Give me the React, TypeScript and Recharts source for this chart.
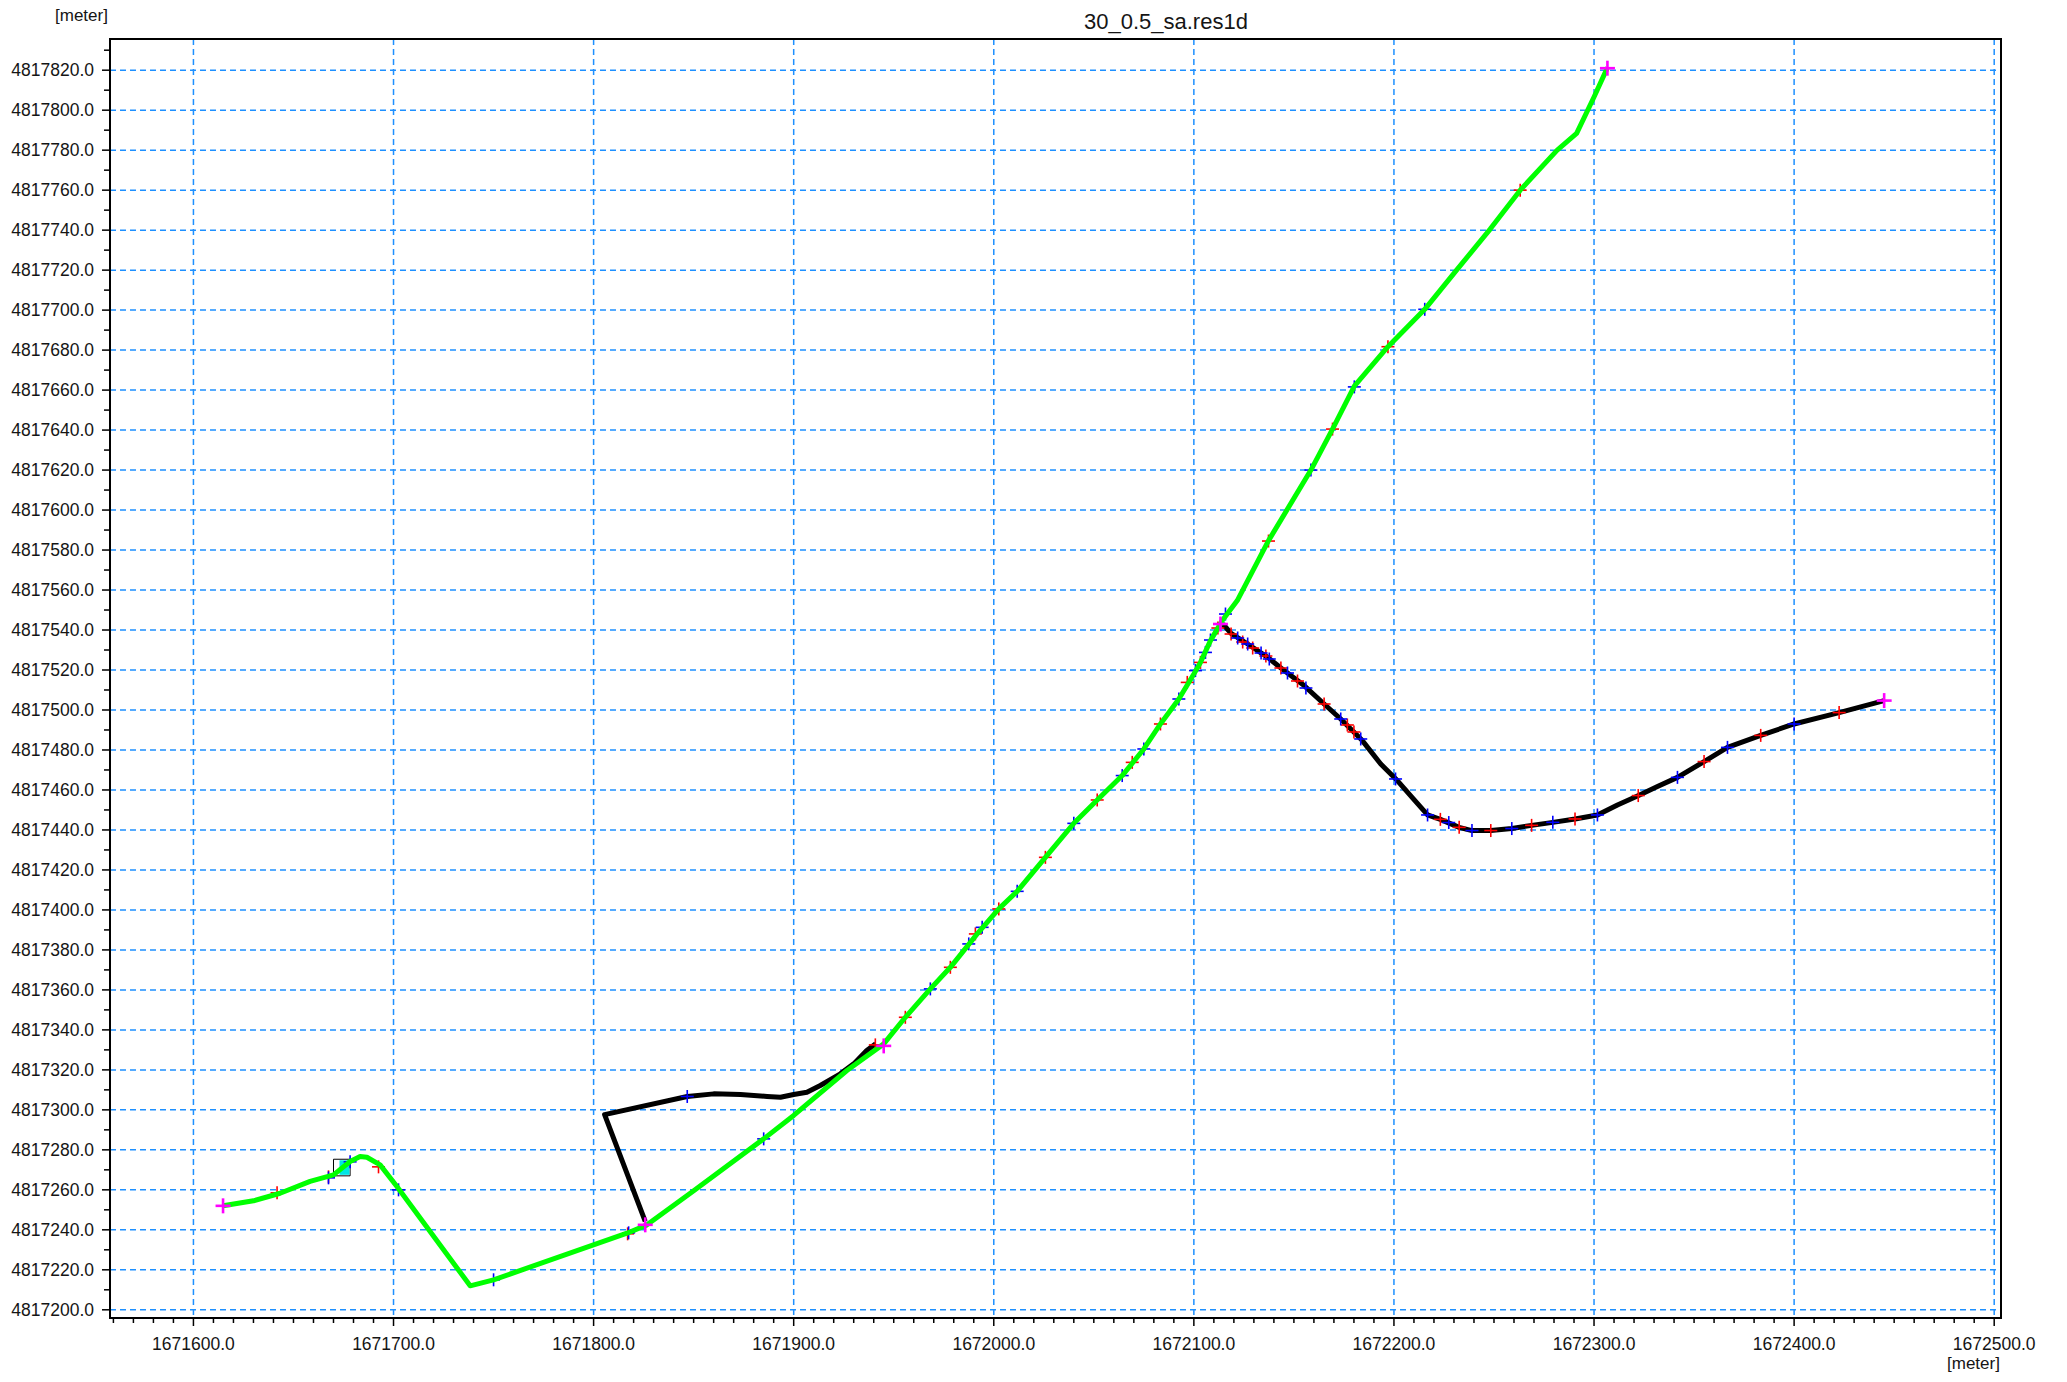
import React from "react";
import { ScatterChart, Scatter, XAxis, YAxis, CartesianGrid, ReferenceArea } from "recharts";

// reach coordinates [easting, northing]
const mainReach: [number, number][] = [
  [1671614.8, 4817252], [1671630, 4817254.5], [1671643.3, 4817258.3], [1671658.3, 4817264.2],
  [1671670, 4817267.5], [1671678.3, 4817274.2], [1671683.3, 4817276.7], [1671686.7, 4817276.3],
  [1671693.3, 4817272.5], [1671701.7, 4817261.7], [1671738.3, 4817212], [1671750, 4817215],
  [1671816.7, 4817238.3], [1671826.7, 4817242.5], [1671850.2, 4817259.7], [1671885, 4817285.5],
  [1671900, 4817297.2], [1671926.6, 4817319.7], [1671945, 4817333], [1671955.8, 4817346.3],
  [1671968.3, 4817360.5], [1671978.3, 4817371.3], [1671991.7, 4817388], [1672002.5, 4817400.5],
  [1672011.7, 4817409.3], [1672025.8, 4817426.3], [1672040, 4817443.3], [1672051.7, 4817455],
  [1672064.2, 4817467.2], [1672075, 4817480.5], [1672083.3, 4817493], [1672092.5, 4817505.5],
  [1672100, 4817518], [1672103.3, 4817523.8], [1672108.3, 4817534.7], [1672114.2, 4817544.7],
  [1672121.7, 4817554.7], [1672137.3, 4817584.7], [1672158.5, 4817620], [1672169.3, 4817640.5],
  [1672180.2, 4817662], [1672197, 4817681.7], [1672215.4, 4817700.4], [1672231.3, 4817720],
  [1672248, 4817740.4], [1672263.1, 4817760], [1672281.6, 4817780], [1672291.3, 4817788.4],
  [1672300, 4817806.6], [1672306.7, 4817821.3],
];

const loopBranch: [number, number][] = [
  [1671825.8, 4817244.2], [1671805.5, 4817297.6], [1671846.8, 4817306.7], [1671860, 4817308],
  [1671873.4, 4817307.7], [1671886.7, 4817306.7], [1671893.4, 4817306.3], [1671900, 4817307.7],
  [1671906.6, 4817308.8], [1671913.3, 4817312.2], [1671923.3, 4817318], [1671930, 4817323],
  [1671936.5, 4817329.7], [1671941, 4817333],
];

const eastBranch: [number, number][] = [
  [1672114.5, 4817543], [1672118.6, 4817538.3], [1672126.9, 4817533], [1672136.9, 4817526.3],
  [1672143.5, 4817521], [1672155.1, 4817512.2], [1672165.1, 4817503], [1672173.4, 4817495.5],
  [1672184.2, 4817484.7], [1672193.4, 4817473], [1672201.7, 4817464.7], [1672209.5, 4817455.8],
  [1672216.8, 4817447.5], [1672223.2, 4817445.3], [1672232.6, 4817441.3], [1672239, 4817439.7],
  [1672248.4, 4817439.7], [1672258.9, 4817440.7], [1672268.8, 4817442.3], [1672279.4, 4817443.8],
  [1672290.5, 4817445.5], [1672301.7, 4817447.5], [1672311.7, 4817452.5], [1672321.7, 4817457],
  [1672331.7, 4817461.7], [1672341.7, 4817466.3], [1672355, 4817474.2], [1672366.7, 4817481.3],
  [1672383.3, 4817487.3], [1672400, 4817493], [1672422.5, 4817498.7], [1672445, 4817504.7],
];

// grid points (h / q points)
const redPoints: [number, number][] = [
  [1671641.8, 4817258.5], [1671667.5, 4817266.5], [1671692.5, 4817271.5], [1671817, 4817238],
  [1671940.8, 4817332.5], [1671955.8, 4817346.3], [1671978.3, 4817371.3], [1671990.8, 4817388],
  [1672002.5, 4817400.5], [1672025.8, 4817426.3], [1672051.7, 4817455], [1672069.2, 4817473.8],
  [1672083.3, 4817493], [1672096.7, 4817513.8], [1672103.3, 4817523.8], [1672112, 4817541],
  [1672137.3, 4817584.5], [1672169.3, 4817640.5], [1672197, 4817681.7], [1672263.1, 4817760],
  [1672118.6, 4817538], [1672124.4, 4817534], [1672129.4, 4817531], [1672136, 4817527],
  [1672143.5, 4817521], [1672151.8, 4817514.5], [1672165.1, 4817503], [1672176.7, 4817492.5],
  [1672180, 4817489], [1672223.2, 4817445.3], [1672232.6, 4817441.3], [1672248.4, 4817439.7],
  [1672268.8, 4817442.3], [1672290.5, 4817445.5], [1672322.1, 4817457.2], [1672355, 4817474.2],
  [1672383.3, 4817487.3], [1672422.5, 4817498.7],
];

const bluePoints: [number, number][] = [
  [1671667.5, 4817266], [1671678.3, 4817274], [1671702.5, 4817260], [1671750, 4817215],
  [1671817.5, 4817238.5], [1671846.8, 4817306.7], [1671885, 4817285.5], [1671968.3, 4817360.5],
  [1671987.5, 4817383], [1671994.2, 4817391.3], [1672011.7, 4817409.3], [1672040, 4817443.3],
  [1672064.2, 4817467.2], [1672075, 4817480.5], [1672092.5, 4817505.5], [1672100.8, 4817519.7],
  [1672105.8, 4817528.8], [1672108.3, 4817535], [1672115.8, 4817548], [1672158.5, 4817620],
  [1672180.2, 4817661.6], [1672215.4, 4817700.4], [1672121.9, 4817536], [1672126.9, 4817533],
  [1672133.6, 4817528.5], [1672137.7, 4817525.5], [1672146.8, 4817518.5], [1672156, 4817511],
  [1672173.4, 4817495.5], [1672183.4, 4817485.5], [1672200.8, 4817465.5], [1672216.8, 4817447.5],
  [1672227.4, 4817443.7], [1672239, 4817439.7], [1672258.9, 4817440.7], [1672279.4, 4817443.8],
  [1672301.7, 4817447.5], [1672341.7, 4817466.3], [1672366.7, 4817481.3], [1672400, 4817493],
];

const endPoints: [number, number][] = [
  [1671614.8, 4817252], [1671825.8, 4817242.5], [1671945, 4817332], [1672113.3, 4817543],
  [1672306.7, 4817821], [1672445, 4817504.7],
];

const xMajor = [1671600, 1671700, 1671800, 1671900, 1672000, 1672100, 1672200, 1672300, 1672400, 1672500];
const yMajor = [
  4817200, 4817220, 4817240, 4817260, 4817280, 4817300, 4817320, 4817340, 4817360, 4817380, 4817400,
  4817420, 4817440, 4817460, 4817480, 4817500, 4817520, 4817540, 4817560, 4817580, 4817600, 4817620,
  4817640, 4817660, 4817680, 4817700, 4817720, 4817740, 4817760, 4817780, 4817800, 4817820,
];

const xDomain: [number, number] = [1671558.3, 1672503.4];
const yDomain: [number, number] = [4817195.9, 4817835.6];

// every 10 m tick (minor + major)
const xTicks: number[] = [];
for (let v = 1671560; v <= 1672500; v += 10) xTicks.push(v);
const yTicks: number[] = [];
for (let v = 4817200; v <= 4817830; v += 10) yTicks.push(v);

const toPts = (a: [number, number][]) => a.map(([x, y]) => ({ x, y }));

const FONT = "'Liberation Sans', Arial, sans-serif";
const TXT = "#151515";
const GRID = "#1e90ff";

const XTick = (props: any) => {
  const { x, y, payload } = props;
  const major = xMajor.includes(payload.value);
  return (
    <g>
      <line x1={x} x2={x} y1={y} y2={y + (major ? 8 : 5)} stroke="#000" strokeWidth={1.5} />
      {major && (
        <text x={x} y={y + 32} textAnchor="middle" fontSize={17.5} fontFamily={FONT} fill={TXT}>
          {payload.value.toFixed(1)}
        </text>
      )}
    </g>
  );
};

const YTick = (props: any) => {
  const { x, y, payload } = props;
  const major = yMajor.includes(payload.value);
  return (
    <g>
      <line x1={x} x2={x - (major ? 8 : 6)} y1={y} y2={y} stroke="#000" strokeWidth={1.5} />
      {major && (
        <text x={x - 16} y={y + 6.3} textAnchor="end" fontSize={17.5} fontFamily={FONT} fill={TXT}>
          {payload.value.toFixed(1)}
        </text>
      )}
    </g>
  );
};

const NoDot = () => <g />;

const cross = (color: string, r: number, w: number) => (p: any) => (
  <g>
    <line x1={p.cx - r} x2={p.cx + r} y1={p.cy} y2={p.cy} stroke={color} strokeWidth={w} />
    <line x1={p.cx} x2={p.cx} y1={p.cy - r} y2={p.cy + r} stroke={color} strokeWidth={w} />
  </g>
);

const label = (text: string, style: React.CSSProperties) => (
  <div style={{ position: "absolute", fontFamily: FONT, color: TXT, lineHeight: 1, whiteSpace: "nowrap", ...style }}>
    {text}
  </div>
);

export default function App() {
  return (
    <div style={{ position: "absolute", left: 0, top: 0, width: 2067, height: 1382, background: "#fff" }}>
      <ScatterChart width={2067} height={1382} margin={{ top: 39, right: 66, left: 0, bottom: 14 }}>
        <CartesianGrid
          stroke={GRID}
          strokeWidth={1.5}
          strokeDasharray="6 4"
          horizontalValues={yMajor}
          verticalValues={xMajor}
        />
        <XAxis
          type="number"
          dataKey="x"
          domain={xDomain}
          allowDataOverflow
          ticks={xTicks}
          interval={0}
          tick={<XTick />}
          tickSize={0}
          tickMargin={0}
          tickLine={false}
          height={50}
          axisLine={{ stroke: "#000", strokeWidth: 2 }}
        />
        <YAxis
          type="number"
          dataKey="y"
          domain={yDomain}
          allowDataOverflow
          ticks={yTicks}
          interval={0}
          tick={<YTick />}
          tickSize={0}
          tickMargin={0}
          tickLine={false}
          width={110}
          axisLine={{ stroke: "#000", strokeWidth: 2 }}
        />
        <ReferenceArea x1={xDomain[0]} x2={xDomain[1]} y1={yDomain[0]} y2={yDomain[1]} fill="none" stroke="#000" strokeWidth={2} fillOpacity={0} ifOverflow="visible" />
        <ReferenceArea x1={1671670} x2={1671678.3} y1={4817267} y2={4817275.3} fill="#fff" fillOpacity={1} stroke="#000" strokeWidth={1} ifOverflow="visible" />
        <ReferenceArea x1={1671673} x2={1671678} y1={4817267.5} y2={4817274.8} fill="#00e5e5" fillOpacity={1} stroke="none" ifOverflow="visible" />
        <Scatter data={toPts(loopBranch)} shape={NoDot} fill="#000" line={{ stroke: "#000", strokeWidth: 5, strokeLinejoin: "round" }} isAnimationActive={false} />
        <Scatter data={toPts(eastBranch)} shape={NoDot} fill="#000" line={{ stroke: "#000", strokeWidth: 5, strokeLinejoin: "round" }} isAnimationActive={false} />
        <Scatter data={toPts(redPoints)} shape={cross("#ff0000", 6.5, 1.6)} isAnimationActive={false} />
        <Scatter data={toPts(bluePoints)} shape={cross("#0000ff", 6.5, 1.6)} isAnimationActive={false} />
        <Scatter data={toPts(mainReach)} shape={NoDot} fill="#00ff00" line={{ stroke: "#00ff00", strokeWidth: 5, strokeLinejoin: "round" }} isAnimationActive={false} />
        <Scatter data={toPts(endPoints)} shape={cross("#ff00ff", 7.5, 2.6)} isAnimationActive={false} />
      </ScatterChart>
      {label("30_0.5_sa.res1d", { left: 1084, top: 10.7, fontSize: 22 })}
      {label("[meter]", { left: 55, top: 7, fontSize: 17 })}
      {label("[meter]", { left: 1947, top: 1354.6, fontSize: 17 })}
    </div>
  );
}
